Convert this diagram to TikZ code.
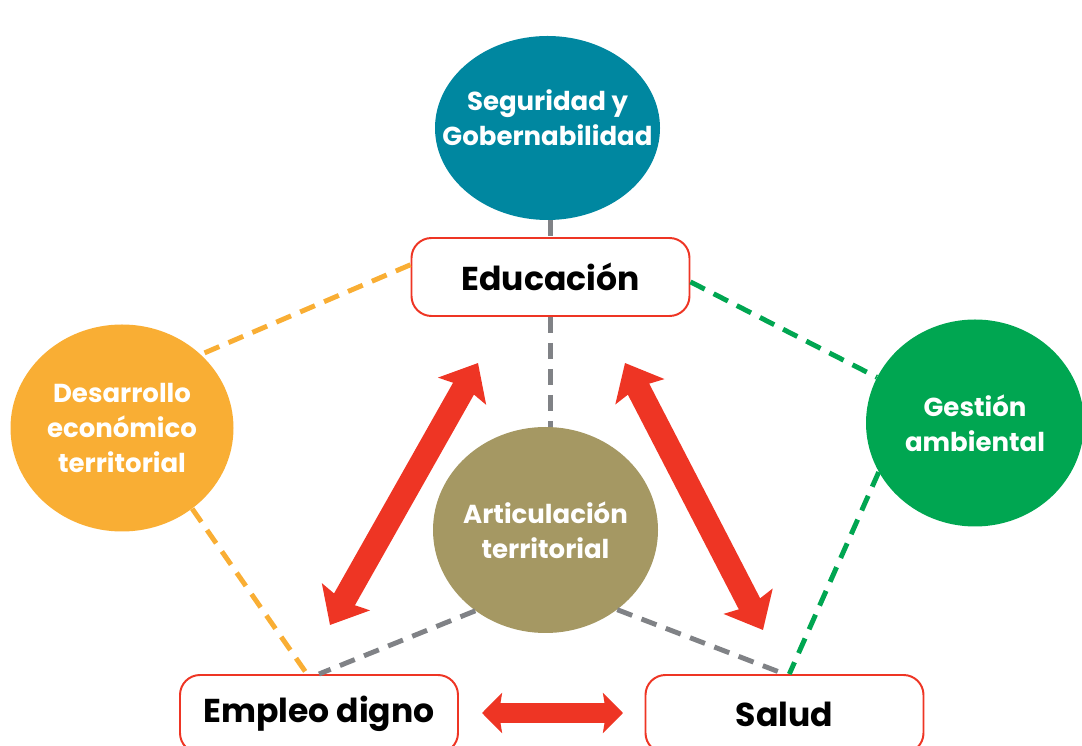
\documentclass[tikz,border=0pt]{standalone}
\usepackage{fontspec}
\setmainfont{Poppins}
\usetikzlibrary{shapes,arrows.meta}
\definecolor{azul}{RGB}{0,135,160}
\definecolor{naranja}{RGB}{249,174,52}
\definecolor{verde}{RGB}{0,166,81}
\definecolor{oliva}{RGB}{165,152,99}
\definecolor{rojo}{RGB}{238,53,36}
\definecolor{gris}{RGB}{128,130,134}

\begin{document}
\begin{tikzpicture}[
  circ/.style={shape=ellipse,fill=#1,inner sep=0pt},
  circtext/.style={text=white,align=center,inner sep=0pt,font=\fontsize{18.5}{25}\selectfont\bfseries},
  box/.style={shape=rectangle,rounded corners=0.5cm,draw=rojo,fill=white,line width=1.4pt,minimum width=6.95cm,minimum height=1.95cm,font=\fontsize{23.5}{28}\selectfont\bfseries},
  link/.style={draw=#1,line width=3.5pt,dash pattern=on 0.4cm off 0.25cm},
  flecha/.style={draw=rojo,line width=0.6cm,arrows={Stealth[width=1.35cm,length=0.8cm,inset=0.12cm]-Stealth[width=1.35cm,length=0.8cm,inset=0.12cm]}}]
\useasboundingbox (0,0) rectangle (27.05,18.65);
\node[circ=azul,minimum width=5.625cm,minimum height=4.6cm,label={[circtext,yshift=0.25cm]center:Seguridad y\\Gobernabilidad}] (0) at (13.6875,15.45) {};
\node[box] (1) at (13.7625,11.725) {Educación};
\node[circ=naranja,minimum width=5.575cm,minimum height=5.175cm,label={[circtext]center:Desarrollo\\económico\\territorial}] (2) at (3.05,7.95) {};
\node[circ=verde,minimum width=5.45cm,minimum height=5.175cm,label={[circtext]center:Gestión\\ambiental}] (3) at (24.375,8.075) {};
\node[circ=oliva,minimum width=5.625cm,minimum height=5.15cm,label={[circtext]center:Articulación\\territorial}] (4) at (13.6375,5.4) {};
\node[box] (5) at (7.975,0.8) {Empleo digno};
\node[box] (6) at (19.6125,0.8) {Salud};

\coordinate (a) at (8.25,3.025);
\coordinate (b) at (11.95,9.575);
\coordinate (c) at (15.625,9.575);
\coordinate (d) at (19.075,2.9);
\coordinate (e) at (12.05,0.825);
\coordinate (f) at (15.575,0.825);

\draw[link=gris] (0.south -| 1.north) -- (1.north);
\draw[link=gris] (1.south) -- (1.south |- 4.north);
\draw[link=gris] (4.229) -- (5.north);
\draw[link=gris] (4.-48) -- (6.north);
\draw[link=naranja] (1.175) -- (2.43);
\draw[link=naranja] (2.-49) -- ([xshift=-0.3cm]5.north);
\draw[link=verde] (1.358) -- (3.155);
\draw[link=verde] (3.207) -- ([xshift=0.12cm]6.north);

\draw[flecha] (a) -- (b);
\draw[flecha] (c) -- (d);
\draw[flecha,line width=0.5cm,arrows={Stealth[width=1cm,length=0.5cm,inset=0.08cm]-Stealth[width=1cm,length=0.5cm,inset=0.08cm]}] (e) -- (f);

\end{tikzpicture}
\end{document}
